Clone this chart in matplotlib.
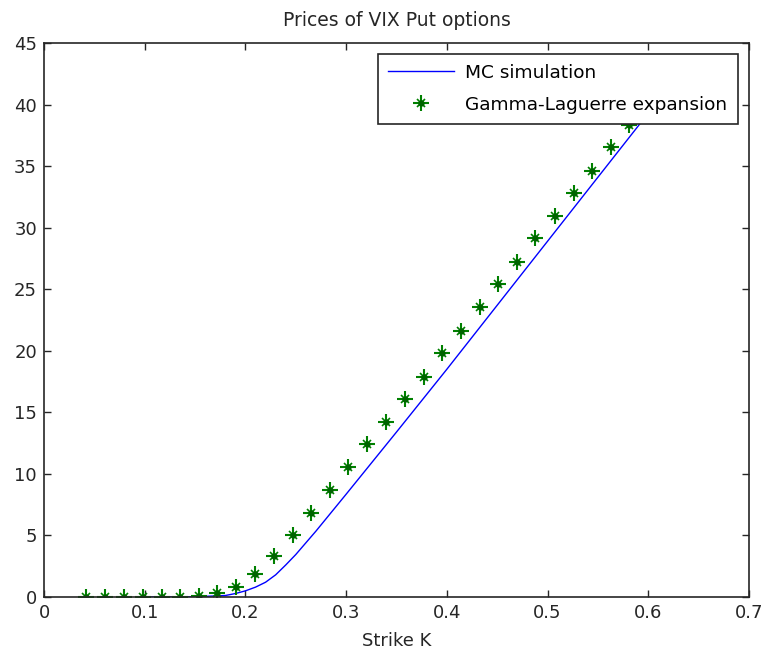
import matplotlib
matplotlib.use("Agg")
import matplotlib.pyplot as plt

plt.rcParams['font.family'] = ['DejaVu Sans']

# MC simulation curve
mc_strike = [0.10, 0.15, 0.18, 0.19, 0.20, 0.21, 0.22, 0.23, 0.24, 0.25,
             0.26, 0.27, 0.28, 0.29, 0.30, 0.35, 0.40, 0.45, 0.50, 0.55, 0.60]
mc_price = [0.0, 0.02, 0.12, 0.28, 0.5, 0.8, 1.2, 1.8, 2.6, 3.45,
            4.4, 5.35, 6.35, 7.35, 8.35, 13.4, 18.5, 23.7, 28.9, 34.1, 39.3]

# Gamma-Laguerre expansion points
gl_strike = [0.042, 0.061, 0.079, 0.098, 0.117, 0.135, 0.154, 0.172, 0.191, 0.210,
             0.228, 0.247, 0.265, 0.284, 0.302, 0.321, 0.340, 0.358, 0.377, 0.395,
             0.414, 0.433, 0.451, 0.470, 0.488, 0.507, 0.526, 0.544, 0.563, 0.581]
gl_price = [0.0, 0.0, 0.0, 0.0, 0.01, 0.02, 0.08, 0.3, 0.79, 1.87,
            3.3, 5.04, 6.85, 8.69, 10.54, 12.40, 14.24, 16.08, 17.9, 19.8,
            21.63, 23.58, 25.43, 27.24, 29.14, 30.95, 32.80, 34.63, 36.58, 38.34]

x_ticks = [0, 0.1, 0.2, 0.3, 0.4, 0.5, 0.6, 0.7]
x_labels = ["0", "0.1", "0.2", "0.3", "0.4", "0.5", "0.6", "0.7"]
y_ticks = [0, 5, 10, 15, 20, 25, 30, 35, 40, 45]

green = "#008000"

fig = plt.figure(figsize=(7.63, 6.56), dpi=100)
ax = fig.add_axes([44 / 763, 1 - 597 / 656, 705 / 763, 554 / 656])

mc_line, = ax.plot(mc_strike, mc_price, color="#0000ff", linewidth=1.0)
# MATLAB-like '*' marker: long plus + short cross + centre dot
p1, = ax.plot(gl_strike, gl_price, linestyle="none", marker="+", markersize=11,
              markeredgewidth=1.5, color=green)
p2, = ax.plot(gl_strike, gl_price, linestyle="none", marker="x", markersize=6,
              markeredgewidth=1.2, color=green)
p3, = ax.plot(gl_strike, gl_price, linestyle="none", marker="o", markersize=3.5,
              color="#006400")

ax.set_xlim(0, 0.7)
ax.set_ylim(0, 45)
ax.set_xticks(x_ticks)
ax.set_xticklabels(x_labels)
ax.set_yticks(y_ticks)
ax.tick_params(direction="in", length=5, width=1, top=True, right=True,
               labelsize=13, colors="#262626", pad=5)
for s in ax.spines.values():
    s.set_linewidth(1.2)
    s.set_color("#262626")

ax.set_title("Prices of VIX Put options", fontsize=13.5, color="#262626", pad=12)
ax.set_xlabel("Strike K", fontsize=13, color="#262626", labelpad=7)

leg = ax.legend([mc_line, (p1, p2, p3)],
                ["MC simulation", "Gamma-Laguerre expansion"],
                loc="upper right", bbox_to_anchor=(0.984, 0.981), fontsize=13.3,
                fancybox=False, framealpha=1, edgecolor="#262626",
                handlelength=3.6, borderpad=0.55, labelspacing=0.75,
                handletextpad=0.6, borderaxespad=0)
leg.get_frame().set_linewidth(1.2)

fig.savefig("out.png", dpi=100, facecolor="white")
